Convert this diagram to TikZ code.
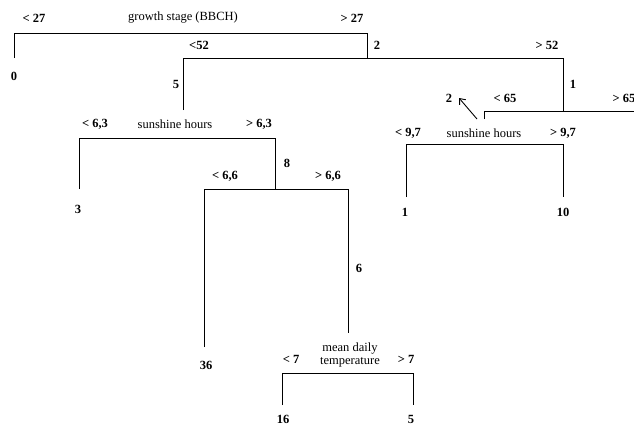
\documentclass[tikz,border=0pt]{standalone}
\usepackage{fontspec}
\setmainfont{Liberation Serif}
\usepackage{tikz}
\usetikzlibrary{arrows, arrows.meta}
\tikzstyle{var} = [inner sep=0pt, font=\fontsize{12.5}{13}\selectfont, align=center]
\tikzstyle{cut} = [inner sep=0pt, font=\fontsize{12.5}{13}\selectfont\bfseries]
\tikzstyle{leaf} = [inner sep=0pt, font=\fontsize{12.5}{13}\selectfont\bfseries]
\tikzstyle{branch} = [line width=0.9pt]
\tikzstyle{arrow} = [line width=0.9pt,-{Straight Barb[length=5pt,width=8pt]}]

\begin{document}
\begin{tikzpicture}[x=1pt,y=-1pt]
\useasboundingbox (0,0) rectangle (634,424);

\coordinate (g0) at (14,58);
\coordinate (g1) at (14,33);
\coordinate (g2) at (367,33);
\coordinate (g3) at (367,58);
\coordinate (b0) at (183,110);
\coordinate (b1) at (183,58);
\coordinate (b2) at (563,58);
\coordinate (b3) at (563,111);
\coordinate (s0) at (79,189);
\coordinate (s1) at (79,138);
\coordinate (s2) at (275,138);
\coordinate (s3) at (275,189);
\coordinate (d0) at (204,347);
\coordinate (d1) at (204,189);
\coordinate (d2) at (348,189);
\coordinate (d3) at (348,333);
\coordinate (t0) at (282,405);
\coordinate (t1) at (282,373);
\coordinate (t2) at (413,373);
\coordinate (t3) at (413,405);
\coordinate (e0) at (484,119);
\coordinate (e1) at (484,111);
\coordinate (e2) at (634,111);
\coordinate (e3) at (634,119);
\coordinate (r0) at (406,197);
\coordinate (r1) at (406,144);
\coordinate (r2) at (563,144);
\coordinate (r3) at (563,197);
\coordinate (a0) at (477,119);
\coordinate (a1) at (459,98);

\node (growth) [var] at (183,18) {growth stage (BBCH)};
\node (gless) [cut] at (34,18) {< 27};
\node (gmore) [cut] at (352,18) {> 27};
\node (leaf0) [leaf] at (14,76) {0};
\node (bless) [cut] at (199,45) {<52};
\node (bnum) [cut] at (377,45) {2};
\node (bmore) [cut] at (547,45) {> 52};
\node (bleft) [leaf] at (176,84) {5};
\node (bright) [leaf] at (573,84) {1};

\node (sun1) [var] at (175,124) {sunshine hours};
\node (sless) [cut] at (95,124) {< 6,3};
\node (smore) [cut] at (259,124) {> 6,3};
\node (leaf3) [leaf] at (78,209) {3};
\node (snum) [leaf] at (287,163) {8};
\node (dless) [cut] at (225,176) {< 6,6};
\node (dmore) [cut] at (328,176) {> 6,6};
\node (leaf36) [leaf] at (206,365) {36};
\node (dnum) [leaf] at (359,268) {6};

\node (temp) [var] at (350,355) {mean daily\\temperature};
\node (tless) [cut] at (291,359) {< 7};
\node (tmore) [cut] at (406,359) {> 7};
\node (leaf16) [leaf] at (283,419) {16};
\node (leaf5) [leaf] at (411,419) {5};

\node (enum) [leaf] at (449,98) {2};
\node (eless) [cut] at (505,98) {< 65};
\node (emore) [cut] at (624,98) {> 65};
\node (eleaf) [leaf] at (637,139) {1};

\node (sun2) [var] at (484,133) {sunshine hours};
\node (rless) [cut] at (408,133) {< 9,7};
\node (rmore) [cut] at (563,133) {> 9,7};
\node (leaf1) [leaf] at (405,212) {1};
\node (leaf10) [leaf] at (563,212) {10};

\draw [branch] (g0) -- (g1) -- (g2) -- (g3);
\draw [branch] (b0) -- (b1) -- (b2) -- (b3);
\draw [branch] (s0) -- (s1) -- (s2) -- (s3);
\draw [branch] (d0) -- (d1) -- (d2) -- (d3);
\draw [branch] (t0) -- (t1) -- (t2) -- (t3);
\draw [branch] (e0) -- (e1) -- (e2) -- (e3);
\draw [branch] (r0) -- (r1) -- (r2) -- (r3);
\draw [arrow] (a0) -- (a1);
\end{tikzpicture}
\end{document}
